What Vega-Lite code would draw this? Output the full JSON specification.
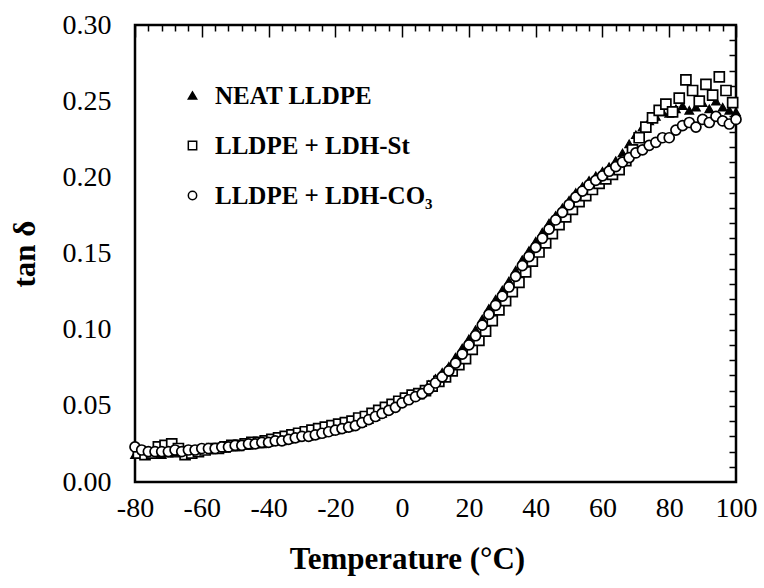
{
  "$schema": "https://vega.github.io/schema/vega-lite/v6.json",
  "width": 601,
  "height": 457,
  "autosize": {"type": "none"},
  "padding": {"left": 135, "top": 25, "right": 28, "bottom": 106},
  "background": "white",
  "config": {
    "view": {"stroke": "black", "strokeWidth": 2.5},
    "font": "Liberation Serif",
    "axis": {
      "grid": false, "domain": false, "tickColor": "black", "tickWidth": 1.5,
      "labelFont": "Liberation Serif", "labelFontSize": 28, "labelColor": "black",
      "titleFont": "Liberation Serif", "titleFontSize": 31, "titleFontWeight": "bold", "titleColor": "black",
      "labelFlush": false, "labelOverlap": false
    },
    "legend": {
      "labelFont": "Liberation Serif", "labelFontSize": 25, "labelFontWeight": "bold", "labelColor": "black", "labelLimit": 0,
      "symbolStrokeColor": "black", "symbolStrokeWidth": 1.5, "symbolSize": 70
    }
  },
  "data": {"values": [
    {"s":"NEAT LLDPE","T":-80,"v":0.018},{"s":"NEAT LLDPE","T":-78,"v":0.019},{"s":"NEAT LLDPE","T":-76,"v":0.018},{"s":"NEAT LLDPE","T":-74,"v":0.019},{"s":"NEAT LLDPE","T":-72,"v":0.018},{"s":"NEAT LLDPE","T":-70,"v":0.019},{"s":"NEAT LLDPE","T":-68,"v":0.019},{"s":"NEAT LLDPE","T":-66,"v":0.020},{"s":"NEAT LLDPE","T":-64,"v":0.020},{"s":"NEAT LLDPE","T":-62,"v":0.021},
    {"s":"NEAT LLDPE","T":-60,"v":0.021},{"s":"NEAT LLDPE","T":-58,"v":0.021},{"s":"NEAT LLDPE","T":-56,"v":0.022},{"s":"NEAT LLDPE","T":-54,"v":0.022},{"s":"NEAT LLDPE","T":-52,"v":0.023},{"s":"NEAT LLDPE","T":-50,"v":0.023},{"s":"NEAT LLDPE","T":-48,"v":0.024},{"s":"NEAT LLDPE","T":-46,"v":0.024},{"s":"NEAT LLDPE","T":-44,"v":0.025},{"s":"NEAT LLDPE","T":-42,"v":0.025},
    {"s":"NEAT LLDPE","T":-40,"v":0.026},{"s":"NEAT LLDPE","T":-38,"v":0.027},{"s":"NEAT LLDPE","T":-36,"v":0.027},{"s":"NEAT LLDPE","T":-34,"v":0.028},{"s":"NEAT LLDPE","T":-32,"v":0.029},{"s":"NEAT LLDPE","T":-30,"v":0.030},{"s":"NEAT LLDPE","T":-28,"v":0.030},{"s":"NEAT LLDPE","T":-26,"v":0.031},{"s":"NEAT LLDPE","T":-24,"v":0.032},{"s":"NEAT LLDPE","T":-22,"v":0.033},
    {"s":"NEAT LLDPE","T":-20,"v":0.034},{"s":"NEAT LLDPE","T":-18,"v":0.035},{"s":"NEAT LLDPE","T":-16,"v":0.036},{"s":"NEAT LLDPE","T":-14,"v":0.038},{"s":"NEAT LLDPE","T":-12,"v":0.039},{"s":"NEAT LLDPE","T":-10,"v":0.041},{"s":"NEAT LLDPE","T":-8,"v":0.043},{"s":"NEAT LLDPE","T":-6,"v":0.045},{"s":"NEAT LLDPE","T":-4,"v":0.048},{"s":"NEAT LLDPE","T":-2,"v":0.050},
    {"s":"NEAT LLDPE","T":0,"v":0.053},{"s":"NEAT LLDPE","T":2,"v":0.055},{"s":"NEAT LLDPE","T":4,"v":0.057},{"s":"NEAT LLDPE","T":6,"v":0.060},{"s":"NEAT LLDPE","T":8,"v":0.064},{"s":"NEAT LLDPE","T":10,"v":0.068},{"s":"NEAT LLDPE","T":12,"v":0.072},{"s":"NEAT LLDPE","T":14,"v":0.076},{"s":"NEAT LLDPE","T":16,"v":0.082},{"s":"NEAT LLDPE","T":18,"v":0.088},
    {"s":"NEAT LLDPE","T":20,"v":0.094},{"s":"NEAT LLDPE","T":22,"v":0.100},{"s":"NEAT LLDPE","T":24,"v":0.107},{"s":"NEAT LLDPE","T":26,"v":0.114},{"s":"NEAT LLDPE","T":28,"v":0.120},{"s":"NEAT LLDPE","T":30,"v":0.126},{"s":"NEAT LLDPE","T":32,"v":0.132},{"s":"NEAT LLDPE","T":34,"v":0.139},{"s":"NEAT LLDPE","T":36,"v":0.146},{"s":"NEAT LLDPE","T":38,"v":0.152},
    {"s":"NEAT LLDPE","T":40,"v":0.158},{"s":"NEAT LLDPE","T":42,"v":0.164},{"s":"NEAT LLDPE","T":44,"v":0.170},{"s":"NEAT LLDPE","T":46,"v":0.175},{"s":"NEAT LLDPE","T":48,"v":0.180},{"s":"NEAT LLDPE","T":50,"v":0.185},{"s":"NEAT LLDPE","T":52,"v":0.190},{"s":"NEAT LLDPE","T":54,"v":0.194},{"s":"NEAT LLDPE","T":56,"v":0.198},{"s":"NEAT LLDPE","T":58,"v":0.201},
    {"s":"NEAT LLDPE","T":60,"v":0.204},{"s":"NEAT LLDPE","T":62,"v":0.207},{"s":"NEAT LLDPE","T":64,"v":0.211},{"s":"NEAT LLDPE","T":66,"v":0.216},{"s":"NEAT LLDPE","T":68,"v":0.222},{"s":"NEAT LLDPE","T":70,"v":0.228},{"s":"NEAT LLDPE","T":72,"v":0.233},{"s":"NEAT LLDPE","T":74,"v":0.237},{"s":"NEAT LLDPE","T":76,"v":0.240},{"s":"NEAT LLDPE","T":78,"v":0.243},
    {"s":"NEAT LLDPE","T":80,"v":0.242},{"s":"NEAT LLDPE","T":82,"v":0.245},{"s":"NEAT LLDPE","T":84,"v":0.247},{"s":"NEAT LLDPE","T":86,"v":0.244},{"s":"NEAT LLDPE","T":88,"v":0.246},{"s":"NEAT LLDPE","T":90,"v":0.249},{"s":"NEAT LLDPE","T":92,"v":0.245},{"s":"NEAT LLDPE","T":94,"v":0.250},{"s":"NEAT LLDPE","T":96,"v":0.246},{"s":"NEAT LLDPE","T":98,"v":0.244},{"s":"NEAT LLDPE","T":100,"v":0.243},

    {"s":"LLDPE + LDH-St","T":-79,"v":0.019},{"s":"LLDPE + LDH-St","T":-77,"v":0.018},{"s":"LLDPE + LDH-St","T":-75,"v":0.019},{"s":"LLDPE + LDH-St","T":-73,"v":0.023},{"s":"LLDPE + LDH-St","T":-71,"v":0.024},{"s":"LLDPE + LDH-St","T":-69,"v":0.025},{"s":"LLDPE + LDH-St","T":-67,"v":0.022},{"s":"LLDPE + LDH-St","T":-65,"v":0.018},{"s":"LLDPE + LDH-St","T":-63,"v":0.019},{"s":"LLDPE + LDH-St","T":-61,"v":0.020},
    {"s":"LLDPE + LDH-St","T":-59,"v":0.021},{"s":"LLDPE + LDH-St","T":-57,"v":0.022},{"s":"LLDPE + LDH-St","T":-55,"v":0.022},{"s":"LLDPE + LDH-St","T":-53,"v":0.023},{"s":"LLDPE + LDH-St","T":-51,"v":0.024},{"s":"LLDPE + LDH-St","T":-49,"v":0.024},{"s":"LLDPE + LDH-St","T":-47,"v":0.025},{"s":"LLDPE + LDH-St","T":-45,"v":0.026},{"s":"LLDPE + LDH-St","T":-43,"v":0.026},{"s":"LLDPE + LDH-St","T":-41,"v":0.027},
    {"s":"LLDPE + LDH-St","T":-39,"v":0.028},{"s":"LLDPE + LDH-St","T":-37,"v":0.029},{"s":"LLDPE + LDH-St","T":-35,"v":0.030},{"s":"LLDPE + LDH-St","T":-33,"v":0.031},{"s":"LLDPE + LDH-St","T":-31,"v":0.032},{"s":"LLDPE + LDH-St","T":-29,"v":0.033},{"s":"LLDPE + LDH-St","T":-27,"v":0.034},{"s":"LLDPE + LDH-St","T":-25,"v":0.035},{"s":"LLDPE + LDH-St","T":-23,"v":0.036},{"s":"LLDPE + LDH-St","T":-21,"v":0.037},
    {"s":"LLDPE + LDH-St","T":-19,"v":0.038},{"s":"LLDPE + LDH-St","T":-17,"v":0.039},{"s":"LLDPE + LDH-St","T":-15,"v":0.040},{"s":"LLDPE + LDH-St","T":-13,"v":0.042},{"s":"LLDPE + LDH-St","T":-11,"v":0.043},{"s":"LLDPE + LDH-St","T":-9,"v":0.045},{"s":"LLDPE + LDH-St","T":-7,"v":0.047},{"s":"LLDPE + LDH-St","T":-5,"v":0.049},{"s":"LLDPE + LDH-St","T":-3,"v":0.051},{"s":"LLDPE + LDH-St","T":-1,"v":0.053},
    {"s":"LLDPE + LDH-St","T":1,"v":0.055},{"s":"LLDPE + LDH-St","T":3,"v":0.057},{"s":"LLDPE + LDH-St","T":5,"v":0.058},{"s":"LLDPE + LDH-St","T":7,"v":0.060},{"s":"LLDPE + LDH-St","T":9,"v":0.063},{"s":"LLDPE + LDH-St","T":11,"v":0.066},{"s":"LLDPE + LDH-St","T":13,"v":0.069},{"s":"LLDPE + LDH-St","T":15,"v":0.073},{"s":"LLDPE + LDH-St","T":17,"v":0.077},{"s":"LLDPE + LDH-St","T":19,"v":0.081},
    {"s":"LLDPE + LDH-St","T":21,"v":0.087},{"s":"LLDPE + LDH-St","T":23,"v":0.093},{"s":"LLDPE + LDH-St","T":25,"v":0.099},{"s":"LLDPE + LDH-St","T":27,"v":0.106},{"s":"LLDPE + LDH-St","T":29,"v":0.113},{"s":"LLDPE + LDH-St","T":31,"v":0.119},{"s":"LLDPE + LDH-St","T":33,"v":0.125},{"s":"LLDPE + LDH-St","T":35,"v":0.131},{"s":"LLDPE + LDH-St","T":37,"v":0.138},{"s":"LLDPE + LDH-St","T":39,"v":0.145},
    {"s":"LLDPE + LDH-St","T":41,"v":0.151},{"s":"LLDPE + LDH-St","T":43,"v":0.157},{"s":"LLDPE + LDH-St","T":45,"v":0.163},{"s":"LLDPE + LDH-St","T":47,"v":0.169},{"s":"LLDPE + LDH-St","T":49,"v":0.174},{"s":"LLDPE + LDH-St","T":51,"v":0.179},{"s":"LLDPE + LDH-St","T":53,"v":0.184},{"s":"LLDPE + LDH-St","T":55,"v":0.188},{"s":"LLDPE + LDH-St","T":57,"v":0.192},{"s":"LLDPE + LDH-St","T":59,"v":0.196},
    {"s":"LLDPE + LDH-St","T":61,"v":0.199},{"s":"LLDPE + LDH-St","T":63,"v":0.202},{"s":"LLDPE + LDH-St","T":65,"v":0.205},{"s":"LLDPE + LDH-St","T":67,"v":0.211},{"s":"LLDPE + LDH-St","T":69,"v":0.218},{"s":"LLDPE + LDH-St","T":71,"v":0.226},{"s":"LLDPE + LDH-St","T":73,"v":0.233},{"s":"LLDPE + LDH-St","T":75,"v":0.239},{"s":"LLDPE + LDH-St","T":77,"v":0.244},{"s":"LLDPE + LDH-St","T":79,"v":0.248},
    {"s":"LLDPE + LDH-St","T":81,"v":0.243},{"s":"LLDPE + LDH-St","T":83,"v":0.252},{"s":"LLDPE + LDH-St","T":85,"v":0.264},{"s":"LLDPE + LDH-St","T":87,"v":0.257},{"s":"LLDPE + LDH-St","T":89,"v":0.250},{"s":"LLDPE + LDH-St","T":91,"v":0.261},{"s":"LLDPE + LDH-St","T":93,"v":0.254},{"s":"LLDPE + LDH-St","T":95,"v":0.266},{"s":"LLDPE + LDH-St","T":97,"v":0.257},{"s":"LLDPE + LDH-St","T":99,"v":0.249},

    {"s":"LLDPE + LDH-CO₃","T":-80,"v":0.023},{"s":"LLDPE + LDH-CO₃","T":-78,"v":0.021},{"s":"LLDPE + LDH-CO₃","T":-76,"v":0.020},{"s":"LLDPE + LDH-CO₃","T":-74,"v":0.020},{"s":"LLDPE + LDH-CO₃","T":-72,"v":0.020},{"s":"LLDPE + LDH-CO₃","T":-70,"v":0.020},{"s":"LLDPE + LDH-CO₃","T":-68,"v":0.021},{"s":"LLDPE + LDH-CO₃","T":-66,"v":0.020},{"s":"LLDPE + LDH-CO₃","T":-64,"v":0.021},{"s":"LLDPE + LDH-CO₃","T":-62,"v":0.021},
    {"s":"LLDPE + LDH-CO₃","T":-60,"v":0.022},{"s":"LLDPE + LDH-CO₃","T":-58,"v":0.022},{"s":"LLDPE + LDH-CO₃","T":-56,"v":0.022},{"s":"LLDPE + LDH-CO₃","T":-54,"v":0.023},{"s":"LLDPE + LDH-CO₃","T":-52,"v":0.023},{"s":"LLDPE + LDH-CO₃","T":-50,"v":0.024},{"s":"LLDPE + LDH-CO₃","T":-48,"v":0.024},{"s":"LLDPE + LDH-CO₃","T":-46,"v":0.025},{"s":"LLDPE + LDH-CO₃","T":-44,"v":0.025},{"s":"LLDPE + LDH-CO₃","T":-42,"v":0.026},
    {"s":"LLDPE + LDH-CO₃","T":-40,"v":0.026},{"s":"LLDPE + LDH-CO₃","T":-38,"v":0.027},{"s":"LLDPE + LDH-CO₃","T":-36,"v":0.027},{"s":"LLDPE + LDH-CO₃","T":-34,"v":0.028},{"s":"LLDPE + LDH-CO₃","T":-32,"v":0.029},{"s":"LLDPE + LDH-CO₃","T":-30,"v":0.030},{"s":"LLDPE + LDH-CO₃","T":-28,"v":0.030},{"s":"LLDPE + LDH-CO₃","T":-26,"v":0.031},{"s":"LLDPE + LDH-CO₃","T":-24,"v":0.032},{"s":"LLDPE + LDH-CO₃","T":-22,"v":0.033},
    {"s":"LLDPE + LDH-CO₃","T":-20,"v":0.034},{"s":"LLDPE + LDH-CO₃","T":-18,"v":0.035},{"s":"LLDPE + LDH-CO₃","T":-16,"v":0.036},{"s":"LLDPE + LDH-CO₃","T":-14,"v":0.037},{"s":"LLDPE + LDH-CO₃","T":-12,"v":0.039},{"s":"LLDPE + LDH-CO₃","T":-10,"v":0.041},{"s":"LLDPE + LDH-CO₃","T":-8,"v":0.043},{"s":"LLDPE + LDH-CO₃","T":-6,"v":0.045},{"s":"LLDPE + LDH-CO₃","T":-4,"v":0.047},{"s":"LLDPE + LDH-CO₃","T":-2,"v":0.049},
    {"s":"LLDPE + LDH-CO₃","T":0,"v":0.052},{"s":"LLDPE + LDH-CO₃","T":2,"v":0.054},{"s":"LLDPE + LDH-CO₃","T":4,"v":0.056},{"s":"LLDPE + LDH-CO₃","T":6,"v":0.058},{"s":"LLDPE + LDH-CO₃","T":8,"v":0.061},{"s":"LLDPE + LDH-CO₃","T":10,"v":0.065},{"s":"LLDPE + LDH-CO₃","T":12,"v":0.069},{"s":"LLDPE + LDH-CO₃","T":14,"v":0.073},{"s":"LLDPE + LDH-CO₃","T":16,"v":0.078},{"s":"LLDPE + LDH-CO₃","T":18,"v":0.084},
    {"s":"LLDPE + LDH-CO₃","T":20,"v":0.090},{"s":"LLDPE + LDH-CO₃","T":22,"v":0.096},{"s":"LLDPE + LDH-CO₃","T":24,"v":0.103},{"s":"LLDPE + LDH-CO₃","T":26,"v":0.110},{"s":"LLDPE + LDH-CO₃","T":28,"v":0.116},{"s":"LLDPE + LDH-CO₃","T":30,"v":0.122},{"s":"LLDPE + LDH-CO₃","T":32,"v":0.128},{"s":"LLDPE + LDH-CO₃","T":34,"v":0.135},{"s":"LLDPE + LDH-CO₃","T":36,"v":0.142},{"s":"LLDPE + LDH-CO₃","T":38,"v":0.148},
    {"s":"LLDPE + LDH-CO₃","T":40,"v":0.154},{"s":"LLDPE + LDH-CO₃","T":42,"v":0.160},{"s":"LLDPE + LDH-CO₃","T":44,"v":0.166},{"s":"LLDPE + LDH-CO₃","T":46,"v":0.172},{"s":"LLDPE + LDH-CO₃","T":48,"v":0.177},{"s":"LLDPE + LDH-CO₃","T":50,"v":0.182},{"s":"LLDPE + LDH-CO₃","T":52,"v":0.187},{"s":"LLDPE + LDH-CO₃","T":54,"v":0.191},{"s":"LLDPE + LDH-CO₃","T":56,"v":0.195},{"s":"LLDPE + LDH-CO₃","T":58,"v":0.198},
    {"s":"LLDPE + LDH-CO₃","T":60,"v":0.201},{"s":"LLDPE + LDH-CO₃","T":62,"v":0.204},{"s":"LLDPE + LDH-CO₃","T":64,"v":0.207},{"s":"LLDPE + LDH-CO₃","T":66,"v":0.210},{"s":"LLDPE + LDH-CO₃","T":68,"v":0.213},{"s":"LLDPE + LDH-CO₃","T":70,"v":0.216},{"s":"LLDPE + LDH-CO₃","T":72,"v":0.218},{"s":"LLDPE + LDH-CO₃","T":74,"v":0.221},{"s":"LLDPE + LDH-CO₃","T":76,"v":0.223},{"s":"LLDPE + LDH-CO₃","T":78,"v":0.226},
    {"s":"LLDPE + LDH-CO₃","T":80,"v":0.226},{"s":"LLDPE + LDH-CO₃","T":82,"v":0.231},{"s":"LLDPE + LDH-CO₃","T":84,"v":0.234},{"s":"LLDPE + LDH-CO₃","T":86,"v":0.236},{"s":"LLDPE + LDH-CO₃","T":88,"v":0.233},{"s":"LLDPE + LDH-CO₃","T":90,"v":0.238},{"s":"LLDPE + LDH-CO₃","T":92,"v":0.236},{"s":"LLDPE + LDH-CO₃","T":94,"v":0.240},{"s":"LLDPE + LDH-CO₃","T":96,"v":0.237},{"s":"LLDPE + LDH-CO₃","T":98,"v":0.235},{"s":"LLDPE + LDH-CO₃","T":100,"v":0.238}
  ]},
  "resolve": {"axis": {"x": "independent", "y": "independent"}},
  "layer": [
    {
      "transform": [{"filter": "datum.s === 'NEAT LLDPE'"}],
      "mark": {"type": "point", "filled": true, "strokeWidth": 1.2, "size": 75, "opacity": 1},
      "encoding": {
        "x": {"field": "T", "type": "quantitative", "scale": {"domain": [-80, 100], "nice": false, "zero": false},
              "axis": {"values": [-80, -60, -40, -20, 0, 20, 40, 60, 80, 100], "ticks": false, "labelPadding": 12,
                       "labelExpr": "datum.value < 0 ? '-' + abs(datum.value) : '' + datum.value",
                       "title": "Temperature (°C)", "titlePadding": 22, "titleX": 272, "titleAnchor": "middle"}},
        "y": {"field": "v", "type": "quantitative", "scale": {"domain": [0, 0.3], "nice": false, "zero": false},
              "axis": {"values": [0, 0.05, 0.1, 0.15, 0.2, 0.25, 0.3], "format": ".2f", "ticks": false, "labelPadding": 24, "title": "tan δ", "titlePadding": 21}},
        "shape": {"field": "s", "type": "nominal", "scale": {"domain": ["NEAT LLDPE", "LLDPE + LDH-St", "LLDPE + LDH-CO₃"], "range": ["triangle-up", "square", "circle"]},
                  "legend": {"title": null, "orient": "none", "legendX": 45, "legendY": 58, "rowPadding": 24, "labelOffset": 10, "symbolStrokeWidth": 1.5}},
        "fill": {"field": "s", "type": "nominal", "scale": {"domain": ["NEAT LLDPE", "LLDPE + LDH-St", "LLDPE + LDH-CO₃"], "range": ["black", "white", "white"]},
                 "legend": {"title": null, "orient": "none", "legendX": 45, "legendY": 58, "rowPadding": 24, "labelOffset": 10, "symbolStrokeWidth": 1.5}},
        "stroke": {"field": "s", "type": "nominal", "scale": {"domain": ["NEAT LLDPE", "LLDPE + LDH-St", "LLDPE + LDH-CO₃"], "range": ["black", "black", "black"]},
                   "legend": {"title": null, "orient": "none", "legendX": 45, "legendY": 58, "rowPadding": 24, "labelOffset": 10, "symbolStrokeWidth": 1.5}}
      }
    },
    {
      "transform": [{"filter": "datum.s === 'LLDPE + LDH-St'"}],
      "mark": {"type": "point", "filled": true, "strokeWidth": 1.7, "size": 100, "opacity": 1},
      "encoding": {
        "x": {"field": "T", "type": "quantitative", "axis": {"values": [-80, -60, -40, -20, 0, 20, 40, 60, 80, 100], "labels": false, "tickSize": -12, "title": null}},
        "y": {"field": "v", "type": "quantitative", "axis": {"values": [0.01, 0.02, 0.03, 0.04, 0.05, 0.06, 0.07, 0.08, 0.09, 0.1, 0.11, 0.12, 0.13, 0.14, 0.15, 0.16, 0.17, 0.18, 0.19, 0.2, 0.21, 0.22, 0.23, 0.24, 0.25, 0.26, 0.27, 0.28, 0.29], "labels": false, "tickSize": -7, "title": null}},
        "shape": {"field": "s", "type": "nominal"},
        "fill": {"field": "s", "type": "nominal"},
        "stroke": {"field": "s", "type": "nominal"}
      }
    },
    {
      "transform": [{"filter": "datum.s === 'LLDPE + LDH-CO₃'"}],
      "mark": {"type": "point", "filled": true, "strokeWidth": 1.7, "size": 100, "opacity": 1},
      "encoding": {
        "x": {"field": "T", "type": "quantitative", "axis": {"values": [-76, -72, -68, -64, -56, -52, -48, -44, -36, -32, -28, -24, -16, -12, -8, -4, 4, 8, 12, 16, 24, 28, 32, 36, 44, 48, 52, 56, 64, 68, 72, 76, 84, 88, 92, 96], "labels": false, "tickSize": -6, "title": null}},
        "y": {"field": "v", "type": "quantitative", "axis": null},
        "shape": {"field": "s", "type": "nominal"},
        "fill": {"field": "s", "type": "nominal"},
        "stroke": {"field": "s", "type": "nominal"}
      }
    }
  ]
}
